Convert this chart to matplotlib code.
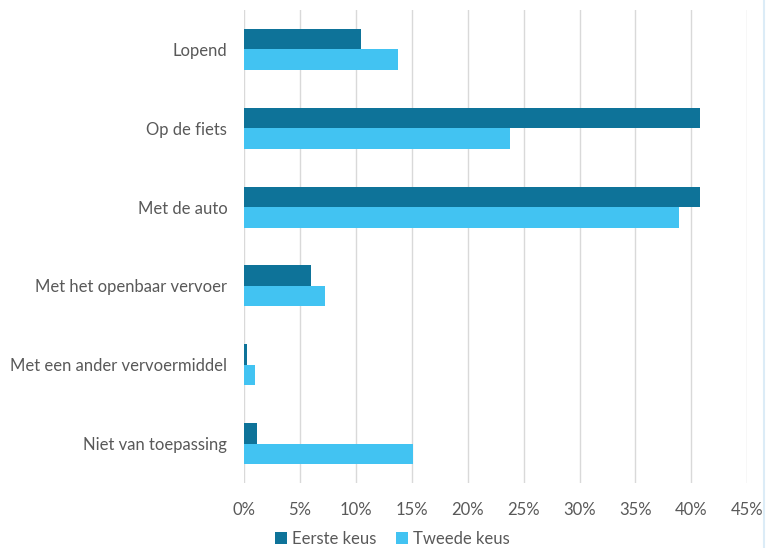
import numpy as np
import matplotlib.pyplot as plt
from matplotlib.ticker import FuncFormatter
from matplotlib.lines import Line2D

# ====== data ======
categories = [
    "Lopend",
    "Op de fiets",
    "Met de auto",
    "Met het openbaar vervoer",
    "Met een ander vervoermiddel",
    "Niet van toepassing",
]
eerste_keus = [10.5, 40.8, 40.8, 6.0, 0.3, 1.2]
tweede_keus = [13.8, 23.8, 38.9, 7.2, 1.0, 15.1]
series_names = ["Eerste keus", "Tweede keus"]
# ===================

DARK = "#0e7399"
LIGHT = "#42c3f2"
TEXT = "#595959"
GRID = "#d9d9d9"

plt.rcParams["font.family"] = ["Lato", "DejaVu Sans"]

fig = plt.figure(figsize=(7.66, 5.48), dpi=100)
ax = fig.add_axes([0.3185, 0.1186, 0.6571, 0.8632])

y = np.arange(len(categories))
h = 0.26
ax.barh(y - h / 2, eerste_keus, height=h, color=DARK, label=series_names[0], zorder=3)
ax.barh(y + h / 2, tweede_keus, height=h, color=LIGHT, label=series_names[1], zorder=3)

ax.set_xlim(0, 45)
ax.set_ylim(len(categories) - 0.5, -0.5)
ax.set_xticks(np.arange(0, 46, 5))
ax.xaxis.set_major_formatter(FuncFormatter(lambda v, p: f"{v:.0f}%"))
ax.set_yticks(y)
ax.set_yticklabels(categories)

ax.grid(True, axis="x", color=GRID, linewidth=1, zorder=0)
for s in ax.spines.values():
    s.set_visible(False)
ax.tick_params(length=0, labelsize=12, labelcolor=TEXT)
ax.tick_params(axis="x", pad=14)
ax.tick_params(axis="y", pad=12)

fig.legend(
    loc="lower center",
    bbox_to_anchor=(0.512, -0.025),
    ncol=2,
    frameon=False,
    fontsize=12,
    labelcolor=TEXT,
    handlelength=0.7,
    handleheight=0.7,
    handletextpad=0.3,
    columnspacing=1.2,
)

# faint panel edge on the right
fig.add_artist(Line2D([0.997, 0.997], [0, 1], color="#dcecf7", linewidth=1.5,
                      transform=fig.transFigure))

fig.savefig("out.png", dpi=100)
